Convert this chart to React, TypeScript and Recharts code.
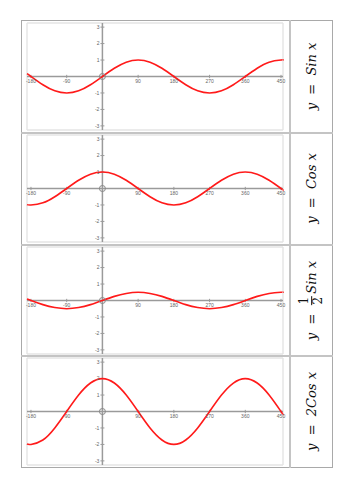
import React from "react";
import { LineChart, Line, XAxis, YAxis, CartesianGrid, ReferenceLine, ReferenceDot } from "recharts";

// angles in degrees
const ANGLES = [-190, -180, -150, -120, -90, -60, -30, 0, 30, 60, 90, 120, 150, 180, 210, 240, 270, 300, 330, 360, 390, 420, 450, 455];

const SIN_VALUES = [0.17, 0, -0.5, -0.87, -1, -0.87, -0.5, 0, 0.5, 0.87, 1, 0.87, 0.5, 0, -0.5, -0.87, -1, -0.87, -0.5, 0, 0.5, 0.87, 1, 1];
const COS_VALUES = [-0.98, -1, -0.87, -0.5, 0, 0.5, 0.87, 1, 0.87, 0.5, 0, -0.5, -0.87, -1, -0.87, -0.5, 0, 0.5, 0.87, 1, 0.87, 0.5, 0, -0.09];
const HALF_SIN_VALUES = [0.09, 0, -0.25, -0.43, -0.5, -0.43, -0.25, 0, 0.25, 0.43, 0.5, 0.43, 0.25, 0, -0.25, -0.43, -0.5, -0.43, -0.25, 0, 0.25, 0.43, 0.5, 0.5];
const TWO_COS_VALUES = [-1.97, -2, -1.73, -1, 0, 1, 1.73, 2, 1.73, 1, 0, -1, -1.73, -2, -1.73, -1, 0, 1, 1.73, 2, 1.73, 1, 0, -0.17];

const X_TICKS = [-180, -90, 0, 90, 180, 270, 360, 450];
const X_TICK_LABELS = ["-180", "-90", "", "90", "180", "270", "360", "450"];
const Y_TICKS = [-3, -2, -1, 0, 1, 2, 3];
const Y_TICK_LABELS = ["-3", "-2", "-1", "", "1", "2", "3"];

const GRID = "#e4e4e4";
const AXIS = "#9a9a9a";
const BORDER = "#a9a9a9";

const ROW_TOPS = [20, 132, 244, 355];

const Graph = ({ values }: { values: number[] }) => {
  const data = ANGLES.map((a, i) => ({ x: a, y: values[i] }));
  return (
    <LineChart width={268} height={110} data={data} margin={{ top: 2, right: 7, bottom: 1, left: 5 }}>
      <CartesianGrid stroke={GRID} strokeWidth={1.4} />
      <XAxis
        dataKey="x"
        type="number"
        domain={[-190, 455]}
        ticks={X_TICKS}
        tick={false}
        axisLine={false}
        tickLine={false}
        height={0}
      />
      <YAxis type="number" domain={[-3.25, 3.25]} ticks={Y_TICKS} tick={false} axisLine={false} tickLine={false} width={0} />
      <ReferenceLine y={0} stroke={AXIS} strokeWidth={1.5} />
      <ReferenceLine x={0} stroke={AXIS} strokeWidth={1.5} />
      {X_TICKS.map((t, i) =>
        X_TICK_LABELS[i] ? (
          <ReferenceLine key={"xt" + t} segment={[{ x: t, y: -0.1 }, { x: t, y: 0.1 }]} stroke={AXIS} strokeWidth={1} />
        ) : null
      )}
      {Y_TICKS.map((t, i) =>
        Y_TICK_LABELS[i] ? (
          <ReferenceLine key={"yt" + t} segment={[{ x: -5, y: t }, { x: 5, y: t }]} stroke={AXIS} strokeWidth={1} />
        ) : null
      )}
      {X_TICKS.map((t, i) =>
        X_TICK_LABELS[i] ? (
          <ReferenceDot
            key={"xl" + t}
            x={t}
            y={0}
            r={0}
            stroke="none"
            fill="none"
            label={{ value: X_TICK_LABELS[i], position: "bottom", offset: 3, fontSize: 5, fill: "#666", fontFamily: "Liberation Sans" }}
          />
        ) : null
      )}
      {Y_TICKS.map((t, i) =>
        Y_TICK_LABELS[i] ? (
          <ReferenceDot
            key={"yl" + t}
            x={0}
            y={t}
            r={0}
            stroke="none"
            fill="none"
            label={{ value: Y_TICK_LABELS[i], position: "left", offset: 3, fontSize: 5, fill: "#666", fontFamily: "Liberation Sans" }}
          />
        ) : null
      )}
      <ReferenceDot x={0} y={0} r={3} fill="none" stroke="#888" strokeWidth={1} />
      <Line type="natural" dataKey="y" stroke="#ff1a1a" strokeWidth={1.6} dot={false} isAnimationActive={false} />
    </LineChart>
  );
};

const labelStyle: React.CSSProperties = {
  fontFamily: "'DejaVu Serif', serif",
  fontStyle: "italic",
  fontSize: 13,
  color: "#111",
  whiteSpace: "nowrap",
  display: "flex",
  alignItems: "center",
};

const Fraction = () => (
  <span style={{ display: "inline-flex", flexDirection: "column", alignItems: "center", fontStyle: "normal", fontSize: 12, lineHeight: "13px", margin: "0 2px 0 0" }}>
    <span style={{ borderBottom: "1px solid #111", padding: "0 1px" }}>1</span>
    <span>2</span>
  </span>
);

const LABELS: React.ReactNode[] = [
  <>y&nbsp;&nbsp;=&nbsp;&nbsp;Sin x</>,
  <>y&nbsp;&nbsp;=&nbsp;&nbsp;Cos x</>,
  <>y&nbsp;&nbsp;=&nbsp;&nbsp;<Fraction />Sin x</>,
  <>y&nbsp;&nbsp;=&nbsp;&nbsp;2Cos x</>,
];

const SERIES = [SIN_VALUES, COS_VALUES, HALF_SIN_VALUES, TWO_COS_VALUES];

export default function App() {
  return (
    <div style={{ position: "absolute", left: 0, top: 0, width: 354, height: 500, background: "#fff" }}>
      <div style={{ position: "absolute", left: 21, top: 20, width: 312, height: 448, border: `1px solid ${BORDER}`, boxSizing: "border-box" }} />
      <div style={{ position: "absolute", left: 289, top: 20, width: 2, height: 448, background: "#c4c4c4" }} />
      {ROW_TOPS.slice(1).map((t) => (
        <div key={t} style={{ position: "absolute", left: 21, top: t, width: 312, height: 2, background: "#c4c4c4" }} />
      ))}
      {SERIES.map((vals, i) => (
        <div key={i} style={{ position: "absolute", left: 22, top: ROW_TOPS[i] + 1, width: 268, height: 110 }}>
          <Graph values={vals} />
        </div>
      ))}
      {LABELS.map((lab, i) => (
        <div
          key={"lab" + i}
          style={{
            position: "absolute",
            left: 291,
            top: ROW_TOPS[i] + 1,
            width: 41,
            height: 110,
            display: "flex",
            alignItems: "center",
            justifyContent: "center",
          }}
        >
          <div style={{ ...labelStyle, transform: "rotate(-90deg)" }}>{lab}</div>
        </div>
      ))}
    </div>
  );
}
